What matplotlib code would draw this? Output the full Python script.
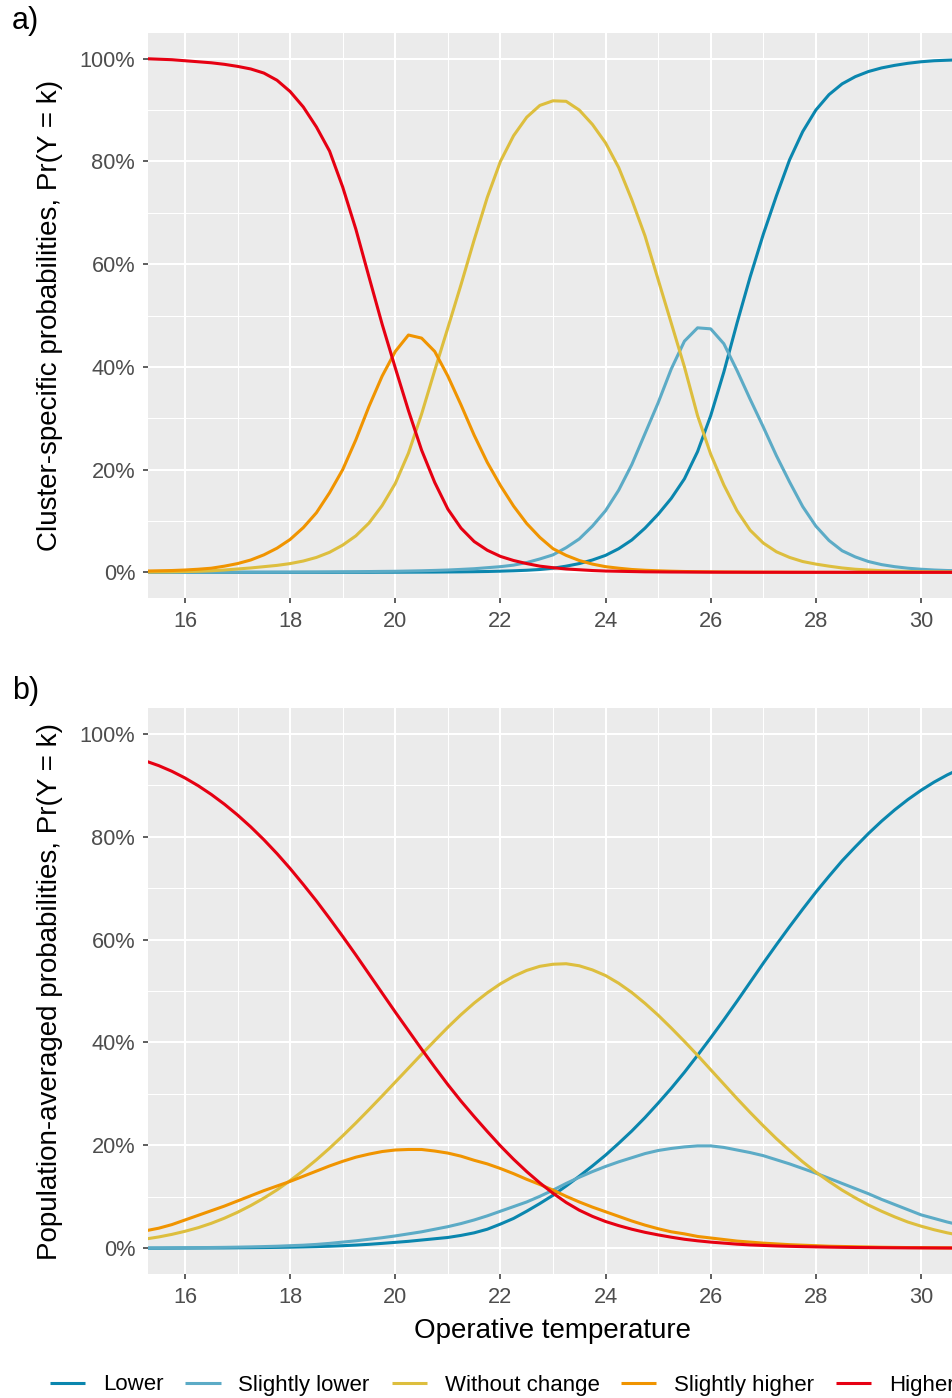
"""온도에 따른 범주별 확률 곡선 (a: cluster-specific, b: population-averaged)."""

from __future__ import annotations

import numpy as np
import matplotlib

matplotlib.use("Agg")
import matplotlib.pyplot as plt
from matplotlib.ticker import FuncFormatter, MultipleLocator

W, H = 953, 1398

# 0.25 간격으로 읽은 온도 지점 (15.25 ~ 30.75)
TEMPS = np.arange(15.25, 30.76, 0.25)

CATEGORIES = ["Lower", "Slightly lower", "Without change", "Slightly higher", "Higher"]
COLORS = ["#0A86AE", "#5CABC6", "#DDBE3E", "#F09400", "#E60012"]

# a) cluster-specific probabilities (%)
A_LOWER = [
    0.0, 0.0, 0.0,
    0.0, 0.0, 0.0, 0.0,
    0.0, 0.0, 0.0, 0.0,
    0.0, 0.0, 0.0, 0.0,
    0.01, 0.01, 0.01, 0.02,
    0.02, 0.03, 0.04, 0.05,
    0.07, 0.09, 0.12, 0.16,
    0.22, 0.3, 0.4, 0.55,
    0.8, 1.2, 1.7, 2.4,
    3.3, 4.6, 6.3, 8.6,
    11.3, 14.4, 18.2, 23.5,
    30.5, 39.0, 48.5, 57.5,
    65.8, 73.3, 80.3, 85.8,
    90.0, 93.0, 95.1, 96.5,
    97.5, 98.2, 98.7, 99.1,
    99.4, 99.6, 99.7, 99.8,
]
A_SLOWER = [
    0.0, 0.0, 0.0,
    0.0, 0.0, 0.01, 0.01,
    0.01, 0.02, 0.02, 0.03,
    0.04, 0.05, 0.06, 0.08,
    0.1, 0.12, 0.15, 0.18,
    0.2, 0.25, 0.3, 0.37,
    0.45, 0.57, 0.7, 0.9,
    1.1, 1.4, 1.9, 2.6,
    3.4, 4.8, 6.5, 9.0,
    12.0, 16.0, 21.0, 27.0,
    33.0, 39.6, 45.0, 47.6,
    47.4, 44.5, 39.3, 33.7,
    28.3, 22.7, 17.6, 12.8,
    9.0, 6.2, 4.2, 3.0,
    2.1, 1.5, 1.1, 0.8,
    0.6, 0.45, 0.35, 0.3,
]
A_NOCHANGE = [
    0.05, 0.08, 0.1,
    0.15, 0.2, 0.3, 0.45,
    0.65, 0.85, 1.1, 1.35,
    1.7, 2.2, 2.9, 3.9,
    5.3, 7.1, 9.6, 13.0,
    17.3, 23.2, 30.8, 39.3,
    47.6, 56.0, 64.7, 73.0,
    80.0, 85.0, 88.6, 90.9,
    91.8, 91.7, 90.0, 87.2,
    83.6, 78.8, 72.5, 65.5,
    57.0, 48.5, 40.0, 30.5,
    23.0, 17.0, 12.0, 8.2,
    5.7, 4.0, 2.9, 2.1,
    1.6, 1.2, 0.85, 0.6,
    0.45, 0.32, 0.23, 0.17,
    0.12, 0.09, 0.07, 0.05,
]
A_SHIGHER = [
    0.25, 0.3, 0.35,
    0.45, 0.6, 0.8, 1.2,
    1.7, 2.4, 3.4, 4.7,
    6.4, 8.7, 11.6, 15.5,
    20.0, 25.8, 32.3, 38.2,
    43.0, 46.2, 45.6, 43.0,
    38.2, 32.6, 26.7, 21.4,
    16.9, 12.9, 9.5, 6.8,
    4.6, 3.3, 2.3, 1.6,
    1.1, 0.8, 0.55, 0.4,
    0.3, 0.22, 0.16, 0.12,
    0.09, 0.07, 0.05, 0.04,
    0.03, 0.02, 0.02, 0.01,
    0.01, 0.01, 0.0, 0.0,
    0.0, 0.0, 0.0, 0.0,
    0.0, 0.0, 0.0, 0.0,
]
A_HIGHER = [
    100.0, 99.9, 99.8,
    99.6, 99.4, 99.2, 98.9,
    98.5, 98.0, 97.2, 95.8,
    93.6, 90.6, 86.7, 82.0,
    75.0, 66.8, 57.5, 48.3,
    39.8, 31.5, 23.8, 17.5,
    12.3, 8.6, 6.0, 4.3,
    3.1, 2.3, 1.7, 1.2,
    0.9, 0.65, 0.5, 0.35,
    0.25, 0.2, 0.15, 0.1,
    0.08, 0.06, 0.05, 0.04,
    0.03, 0.02, 0.02, 0.01,
    0.01, 0.01, 0.0, 0.0,
    0.0, 0.0, 0.0, 0.0,
    0.0, 0.0, 0.0, 0.0,
    0.0, 0.0, 0.0, 0.0,
]

# b) population-averaged probabilities (%)
B_LOWER = [
    0.02, 0.02, 0.03,
    0.04, 0.05, 0.06, 0.07,
    0.09, 0.11, 0.14, 0.17,
    0.21, 0.26, 0.32, 0.4,
    0.5, 0.62, 0.77, 0.95,
    1.15, 1.35, 1.6, 1.85,
    2.1, 2.5, 3.0, 3.7,
    4.7, 5.8, 7.2, 8.7,
    10.3, 12.1, 14.0, 16.0,
    18.1, 20.4, 22.8, 25.4,
    28.2, 31.1, 34.2, 37.5,
    40.9, 44.4, 48.0, 51.7,
    55.4, 59.0, 62.5, 65.9,
    69.2, 72.3, 75.3, 78.0,
    80.6, 83.0, 85.2, 87.2,
    89.0, 90.6, 92.0, 93.2,
]
B_SLOWER = [
    0.05, 0.06, 0.08,
    0.1, 0.12, 0.15, 0.18,
    0.22, 0.27, 0.33, 0.4,
    0.5, 0.6, 0.75, 0.95,
    1.2, 1.45, 1.75, 2.05,
    2.4, 2.8, 3.2, 3.7,
    4.2, 4.8, 5.5, 6.3,
    7.2, 8.1, 9.0, 10.1,
    11.3, 12.6, 13.8, 14.9,
    15.9, 16.8, 17.6, 18.4,
    19.0, 19.4, 19.7, 19.9,
    19.9, 19.6, 19.1, 18.6,
    18.0, 17.2, 16.4, 15.5,
    14.6, 13.6, 12.6, 11.6,
    10.6, 9.5, 8.5, 7.5,
    6.5, 5.8, 5.1, 4.5,
]
B_NOCHANGE = [
    1.8, 2.2, 2.7,
    3.3, 4.0, 4.85, 5.85,
    7.0, 8.3, 9.75, 11.35,
    13.15, 15.1, 17.2, 19.45,
    21.85, 24.35, 26.95, 29.6,
    32.3, 35.0, 37.7, 40.35,
    42.95, 45.4, 47.65, 49.65,
    51.4, 52.85, 54.0, 54.8,
    55.2, 55.3, 54.9, 54.1,
    53.0, 51.5, 49.7, 47.6,
    45.3, 42.8, 40.2, 37.5,
    34.7, 31.9, 29.1, 26.4,
    23.8, 21.3, 19.0, 16.8,
    14.8, 13.0, 11.3, 9.8,
    8.4, 7.2, 6.1, 5.1,
    4.3, 3.6, 3.0, 2.5,
]
B_SHIGHER = [
    3.4, 3.9, 4.6,
    5.5, 6.4, 7.3, 8.2,
    9.2, 10.2, 11.2, 12.1,
    13.0, 14.0, 15.0, 16.0,
    16.9, 17.7, 18.3, 18.8,
    19.1, 19.2, 19.2, 18.9,
    18.5, 17.9, 17.1, 16.4,
    15.5, 14.5, 13.4, 12.4,
    11.3, 10.1, 9.0, 8.0,
    7.1, 6.2, 5.3, 4.5,
    3.8, 3.2, 2.8, 2.3,
    2.0, 1.7, 1.4, 1.2,
    1.0, 0.85, 0.7, 0.6,
    0.5, 0.4, 0.35, 0.3,
    0.25, 0.2, 0.17, 0.14,
    0.12, 0.1, 0.08, 0.07,
]
B_HIGHER = [
    94.7, 93.8, 92.7,
    91.4, 89.9, 88.2, 86.3,
    84.2, 81.9, 79.4, 76.7,
    73.8, 70.7, 67.5, 64.1,
    60.6, 57.0, 53.3, 49.6,
    45.9, 42.3, 38.7, 35.2,
    31.8, 28.6, 25.6, 22.7,
    19.9, 17.3, 14.9, 12.7,
    10.7, 8.9, 7.4, 6.2,
    5.2, 4.4, 3.7, 3.1,
    2.6, 2.15, 1.75, 1.45,
    1.2, 1.0, 0.8, 0.65,
    0.55, 0.45, 0.38, 0.32,
    0.27, 0.22, 0.18, 0.15,
    0.13, 0.11, 0.09, 0.08,
    0.07, 0.06, 0.05, 0.04,
]

PANEL_A = [A_LOWER, A_SLOWER, A_NOCHANGE, A_SHIGHER, A_HIGHER]
PANEL_B = [B_LOWER, B_SLOWER, B_NOCHANGE, B_SHIGHER, B_HIGHER]


def style_axes(ax) -> None:
    ax.set_facecolor("#EBEBEB")
    for spine in ax.spines.values():
        spine.set_visible(False)
    ax.set_xlim(15.296, 30.609)
    ax.set_ylim(-5, 105)
    ax.xaxis.set_major_locator(MultipleLocator(2))
    ax.xaxis.set_minor_locator(MultipleLocator(1))
    ax.yaxis.set_major_locator(MultipleLocator(20))
    ax.yaxis.set_minor_locator(MultipleLocator(10))
    ax.yaxis.set_major_formatter(FuncFormatter(lambda v, _: f"{v:.0f}%"))
    ax.grid(which="major", color="white", linewidth=1.45)
    ax.grid(which="minor", color="white", linewidth=0.75)
    ax.set_axisbelow(True)
    ax.tick_params(which="major", length=3.4, width=1.1, color="#333333",
                   labelcolor="#4D4D4D", labelsize=15.7)
    ax.tick_params(axis="x", pad=6.2)
    ax.tick_params(axis="y", pad=5.8)
    ax.tick_params(which="minor", length=0)


def draw_panel(ax, series) -> list:
    style_axes(ax)
    lines = []
    for values, name, color in zip(series, CATEGORIES, COLORS):
        (line,) = ax.plot(TEMPS, values, color=color, linewidth=2.2,
                          label=name, solid_capstyle="butt")
        lines.append(line)
    return lines


def main() -> int:
    plt.rcParams["font.family"] = ["Liberation Sans", "DejaVu Sans"]

    fig = plt.figure(figsize=(W / 100, H / 100), dpi=100)
    ax_a = fig.add_axes([148 / W, 1 - 598 / H, 805 / W, 565 / H])
    ax_b = fig.add_axes([148 / W, 1 - 1274 / H, 805 / W, 566 / H])

    handles = draw_panel(ax_a, PANEL_A)
    draw_panel(ax_b, PANEL_B)

    fig.text(12 / W, 1 - 21 / H, "a)", fontsize=22, ha="left", va="center")
    fig.text(12 / W, 1 - 691 / H, "b)", fontsize=22, ha="left", va="center")

    fig.text(50 / W, 1 - 315.5 / H, "Cluster-specific probabilities, Pr(Y = k)",
             rotation=90, ha="center", va="center", fontsize=20)
    fig.text(50 / W, 1 - 991 / H, "Population-averaged probabilities, Pr(Y = k)",
             rotation=90, ha="center", va="center", fontsize=20)
    fig.text(553 / W, 1 - 1331 / H, "Operative temperature",
             ha="center", va="center", fontsize=20)

    fig.legend(handles, CATEGORIES, loc="center left",
               bbox_to_anchor=(50 / W, 1 - 1385 / H), ncol=5, frameon=False,
               fontsize=16, handlelength=1.58, handletextpad=0.81,
               columnspacing=0.98, borderaxespad=0, borderpad=0)

    fig.savefig("out.png", dpi=100)
    return 0


if __name__ == "__main__":
    raise SystemExit(main())
